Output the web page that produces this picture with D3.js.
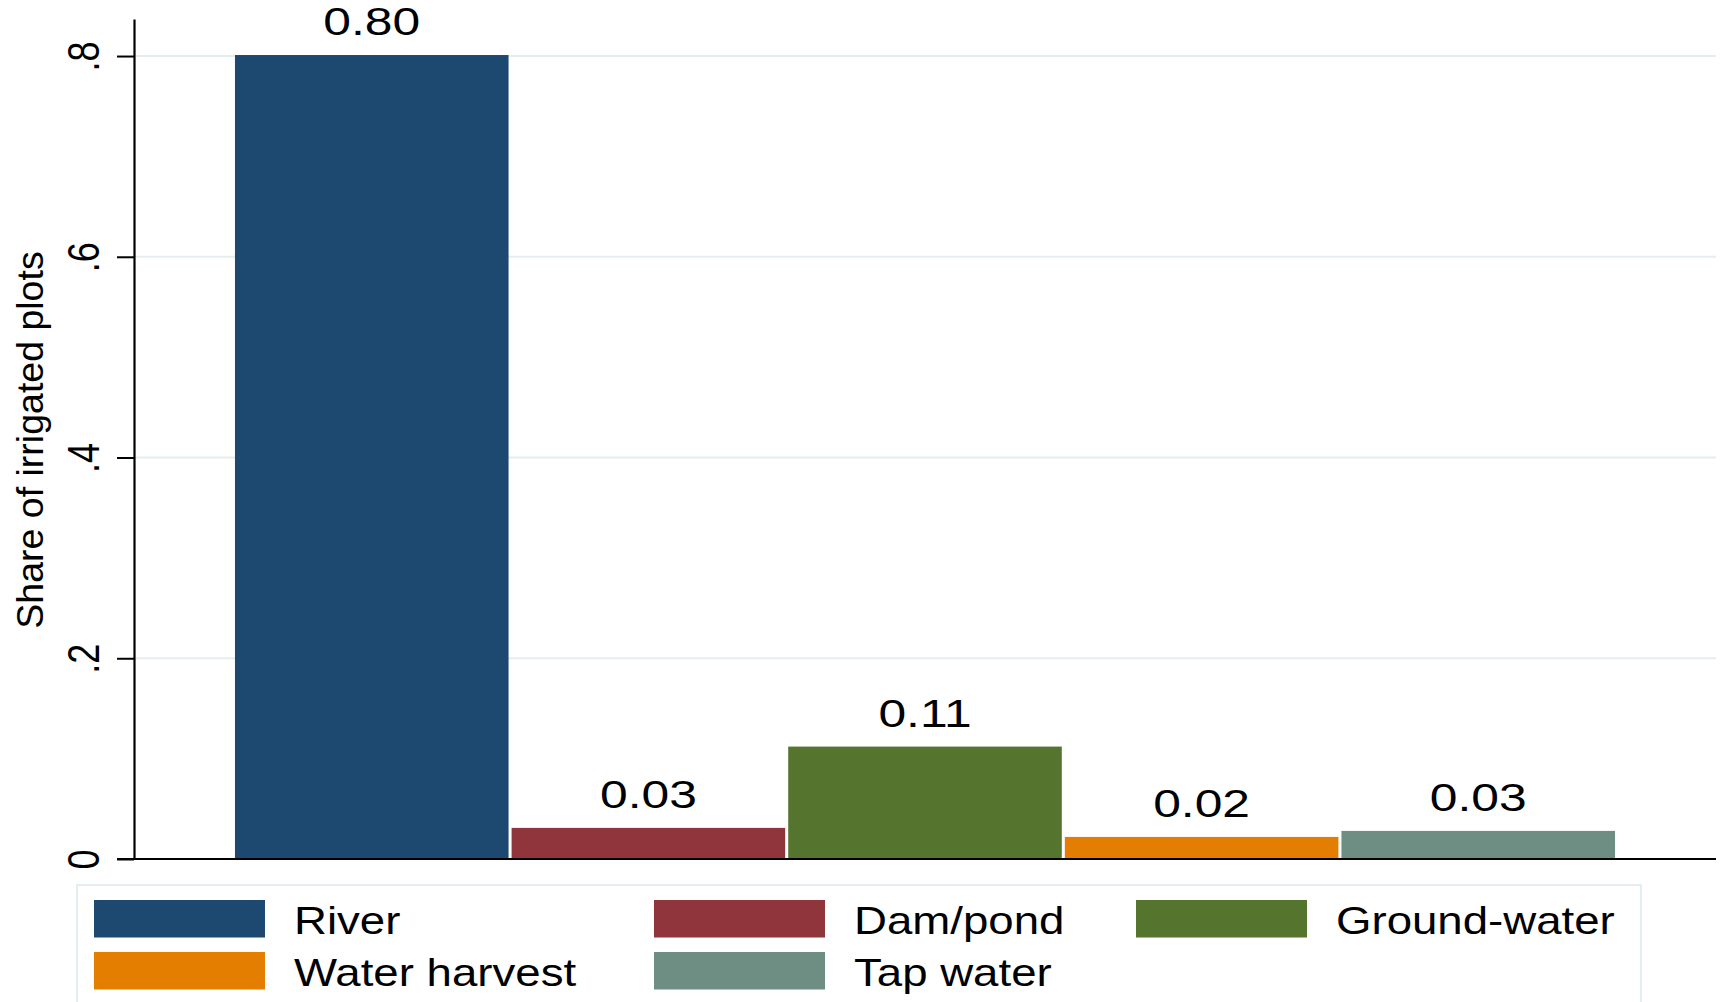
<!DOCTYPE html>
<html>
<head>
<meta charset="utf-8">
<script src="https://cdn.jsdelivr.net/npm/d3@7"></script>
<style>
  html, body { margin: 0; padding: 0; background: #ffffff; }
  svg { display: block; }
  text { font-family: "Liberation Sans", Arial, Helvetica, sans-serif; fill: #000; }
</style>
</head>
<body>
<svg id="chart" width="1721" height="1002"></svg>
<script>
// Irrigation water sources: share of irrigated plots by source
const categories = ["River", "Dam/pond", "Ground-water", "Water harvest", "Tap water"];
const shares = [0.801, 0.031, 0.112, 0.022, 0.028];
const barColors = ["#1d4870", "#90353b", "#55752f", "#e37e00", "#6e8e84"];
const yTicks = [0, 0.2, 0.4, 0.6, 0.8];
const yTickLabels = ["0", ".2", ".4", ".6", ".8"];
const yTitle = "Share of irrigated plots";

const svg = d3.select("#chart");

// plot region
const plot = { left: 134, right: 1716, top: 19, bottom: 859 };
const yTop = 0.8369;

const x = d3.scaleBand()
  .domain(categories)
  .range([plot.left, plot.right])
  .paddingInner(0.011)
  .paddingOuter(0.365);

const y = d3.scaleLinear()
  .domain([0, yTop])
  .range([plot.bottom, plot.top]);

const gridColor = "#e4edf0";

// horizontal grid lines
svg.append("g")
  .selectAll("line")
  .data(yTicks.filter(d => d > 0))
  .join("line")
  .attr("x1", plot.left)
  .attr("x2", plot.right)
  .attr("y1", d => y(d))
  .attr("y2", d => y(d))
  .attr("stroke", gridColor)
  .attr("stroke-width", 2);

// bars
svg.append("g")
  .selectAll("rect")
  .data(categories)
  .join("rect")
  .attr("x", d => x(d))
  .attr("width", x.bandwidth())
  .attr("y", (d, i) => y(shares[i]))
  .attr("height", (d, i) => y(0) - y(shares[i]))
  .attr("fill", (d, i) => barColors[i]);

// value labels above bars
const fmt = d3.format(".2f");
svg.append("g")
  .selectAll("text")
  .data(categories)
  .join("text")
  .attr("transform", (d, i) => `translate(${x(d) + x.bandwidth() / 2},${y(shares[i]) - 20}) scale(1.31,1)`)
  .attr("text-anchor", "middle")
  .attr("font-size", 38)
  .text((d, i) => fmt(shares[i]));

// y axis
const yAxis = d3.axisLeft(y)
  .tickValues(yTicks)
  .tickFormat((d, i) => yTickLabels[i])
  .tickSize(17)
  .tickSizeOuter(0);

const gy = svg.append("g")
  .attr("transform", `translate(${plot.left},0)`)
  .call(yAxis);

gy.select(".domain").attr("stroke", "#000").attr("stroke-width", 2.2);
gy.selectAll(".tick line").attr("stroke", "#000").attr("stroke-width", 2);
gy.selectAll(".tick text")
  .attr("x", null)
  .attr("dy", null)
  .attr("fill", "#000")
  .attr("text-anchor", "middle")
  .attr("font-size", 36)
  .attr("font-family", "Liberation Sans, Arial, Helvetica, sans-serif")
  .attr("transform", "translate(-35,0) rotate(-90) scale(1,1.23)");

// zero baseline
svg.append("line")
  .attr("x1", plot.left - 17)
  .attr("x2", plot.right)
  .attr("y1", y(0))
  .attr("y2", y(0))
  .attr("stroke", "#000")
  .attr("stroke-width", 2.2);

// y axis title
svg.append("text")
  .attr("transform", `translate(42.5,${(plot.top + plot.bottom) / 2 + 1}) rotate(-90)`)
  .attr("text-anchor", "middle")
  .attr("font-size", 37.5)
  .text(yTitle);

// legend
const legend = svg.append("g");
legend.append("rect")
  .attr("x", 77)
  .attr("y", 885)
  .attr("width", 1641 - 77)
  .attr("height", 140)
  .attr("fill", "#fff")
  .attr("stroke", gridColor)
  .attr("stroke-width", 2);

const colX = [94, 654, 1136];
const rowY = [900, 952];
const items = legend.selectAll("g.item")
  .data(categories)
  .join("g")
  .attr("class", "item")
  .attr("transform", (d, i) => `translate(${colX[i % 3]},${rowY[Math.floor(i / 3)]})`);

items.append("rect")
  .attr("width", 171)
  .attr("height", 37.5)
  .attr("fill", (d, i) => barColors[i]);

items.append("text")
  .attr("transform", "translate(200,34) scale(1.2,1)")
  .attr("font-size", 38)
  .text(d => d);
</script>
</body>
</html>
